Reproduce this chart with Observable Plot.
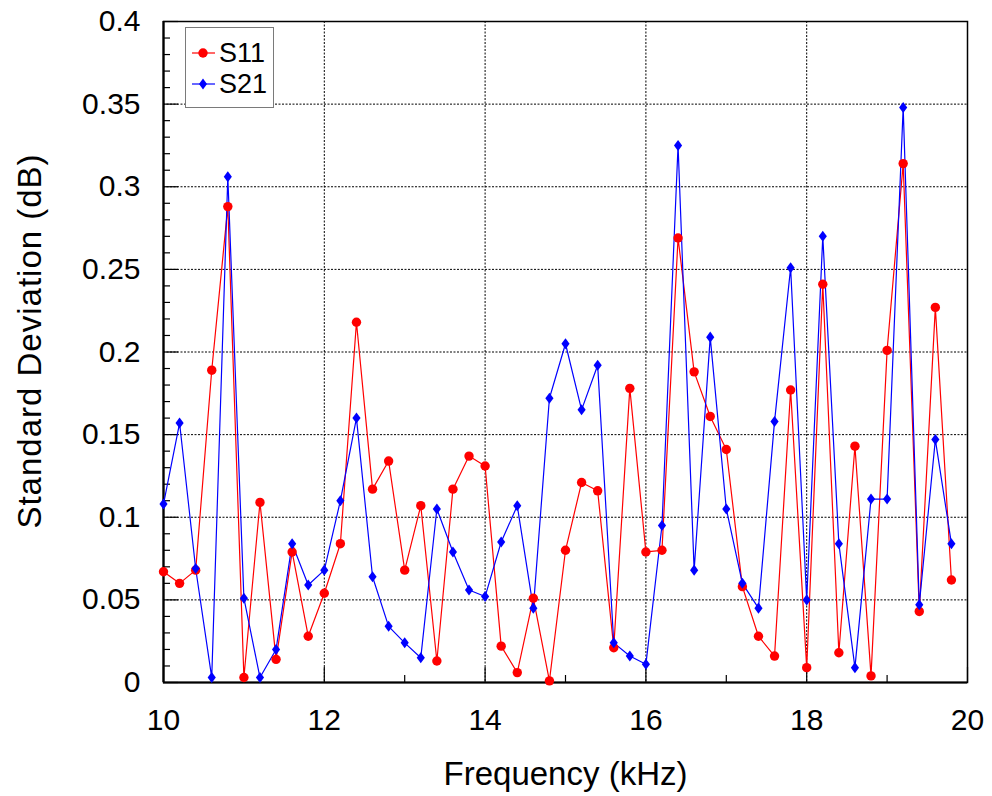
<!DOCTYPE html>
<html>
<head>
<meta charset="utf-8">
<script src="https://cdn.jsdelivr.net/npm/d3@7"></script>
<script src="https://cdn.jsdelivr.net/npm/@observablehq/plot@0.6"></script>
<style>
  body { margin: 0; background: #fff; font-family: "Liberation Sans", Arial, Helvetica, sans-serif; }
  #wrap { position: relative; width: 992px; height: 796px; }
  #legend { position: absolute; left: 185px; top: 27px; width: 87px; height: 79px;
            border: 1.5px solid #7a7a7a; background: #fff; }
  #legend svg { position: absolute; left: 0; top: 0; }
  .lab { position: absolute; left: 33px; font-size: 27px; line-height: 27px; color: #000; }
</style>
</head>
<body>
<div id="wrap">
  <div id="chart"></div>
  <div id="legend">
    <svg width="30" height="79">
      <line x1="6" x2="29" y1="25" y2="25" stroke="red" stroke-width="1.2"/>
      <circle cx="17" cy="25" r="4.7" fill="red"/>
      <line x1="6" x2="29" y1="56" y2="56" stroke="blue" stroke-width="1.2"/>
      <path d="M17,50.5L21,56L17,61.5L13,56Z" fill="blue"/>
    </svg>
    <div class="lab" style="top:12px">S11</div>
    <div class="lab" style="top:43px">S21</div>
  </div>
</div>
<script>
const freq = [10.0,10.2,10.4,10.6,10.8,11.0,11.2,11.4,11.6,11.8,
              12.0,12.2,12.4,12.6,12.8,13.0,13.2,13.4,13.6,13.8,
              14.0,14.2,14.4,14.6,14.8,15.0,15.2,15.4,15.6,15.8,
              16.0,16.2,16.4,16.6,16.8,17.0,17.2,17.4,17.6,17.8,
              18.0,18.2,18.4,18.6,18.8,19.0,19.2,19.4,19.6,19.8];
const s11 = [0.067,0.060,0.068,0.189,0.288,0.003,0.109,0.014,0.079,0.028,
             0.054,0.084,0.218,0.117,0.134,0.068,0.107,0.013,0.117,0.137,
             0.131,0.022,0.006,0.051,0.001,0.080,0.121,0.116,0.021,0.178,
             0.079,0.080,0.269,0.188,0.161,0.141,0.058,0.028,0.016,0.177,
             0.009,0.241,0.018,0.143,0.004,0.201,0.314,0.043,0.227,0.062];
const s21 = [0.108,0.157,0.069,0.003,0.306,0.051,0.003,0.020,0.084,0.059,
             0.068,0.110,0.160,0.064,0.034,0.024,0.015,0.105,0.079,0.056,
             0.052,0.085,0.107,0.045,0.172,0.205,0.165,0.192,0.024,0.016,
             0.011,0.095,0.325,0.068,0.209,0.105,0.060,0.045,0.158,0.251,
             0.050,0.270,0.084,0.009,0.111,0.111,0.348,0.047,0.147,0.084];

const xMajorTicks = [10, 12, 14, 16, 18, 20];
const xTickLabels = ["10", "12", "14", "16", "18", "20"];
const xMinorTicks = [11, 13, 15, 17, 19];
const xGridLines = [12, 14, 16, 18];
const yMajorTicks = [0, 0.05, 0.1, 0.15, 0.2, 0.25, 0.3, 0.35, 0.4];
const yTickLabels = ["0", "0.05", "0.1", "0.15", "0.2", "0.25", "0.3", "0.35", "0.4"];
const yMinorTicks = [0.01,0.02,0.03,0.04,0.06,0.07,0.08,0.09,0.11,0.12,0.13,0.14,
                     0.16,0.17,0.18,0.19,0.21,0.22,0.23,0.24,0.26,0.27,0.28,0.29,
                     0.31,0.32,0.33,0.34,0.36,0.37,0.38,0.39];
const yGridLines = [0.05, 0.1, 0.15, 0.2, 0.25, 0.3, 0.35];
const xTitle = "Frequency (kHz)";
const yTitle = "Standard Deviation (dB)";

const rowsS11 = freq.map((f, i) => ({f, v: s11[i]}));
const rowsS21 = freq.map((f, i) => ({f, v: s21[i]}));

const W = 992, H = 796, ML = 163, MR = 25, MT = 21, MB = 114;
const innerW = W - ML - MR, innerH = H - MT - MB;

const tallDiamond = {
  draw(ctx, size) {
    const r = Math.sqrt(size / Math.PI);
    const w = r * 0.85, h = r * 1.15;
    ctx.moveTo(0, -h); ctx.lineTo(w, 0); ctx.lineTo(0, h); ctx.lineTo(-w, 0); ctx.closePath();
  }
};

const font = '"Liberation Sans", Arial, Helvetica, sans-serif';
const chart = Plot.plot({
  width: W, height: H,
  marginLeft: ML, marginRight: MR, marginTop: MT, marginBottom: MB,
  style: {fontFamily: font, fontSize: "30px", color: "black", background: "white", overflow: "visible"},
  x: {domain: [10, 20]},
  y: {domain: [0, 0.4]},
  marks: [
    Plot.gridX(xGridLines, {stroke: "black", strokeOpacity: 1, strokeWidth: 1, strokeDasharray: "2,1.5"}),
    Plot.gridY(yGridLines, {stroke: "black", strokeOpacity: 1, strokeWidth: 1, strokeDasharray: "2,1.5"}),
    Plot.tickX(xMajorTicks, {x: d => d, insetTop: innerH - 15, stroke: "black", strokeWidth: 1.2}),
    Plot.tickX(xMinorTicks, {x: d => d, insetTop: innerH - 7, stroke: "black", strokeWidth: 1.2}),
    Plot.tickY(yMajorTicks, {y: d => d, insetRight: innerW - 15, stroke: "black", strokeWidth: 1.2}),
    Plot.tickY(yMinorTicks, {y: d => d, insetRight: innerW - 7, stroke: "black", strokeWidth: 1.2}),
    Plot.axisX(xMajorTicks, {tickSize: 0, tickPadding: 26, fontSize: 30, label: null,
      tickFormat: d => xTickLabels[xMajorTicks.indexOf(d)]}),
    Plot.axisY(yMajorTicks, {tickSize: 0, tickPadding: 23, fontSize: 30, label: null,
      tickFormat: d => yTickLabels[yMajorTicks.indexOf(d)]}),
    Plot.frame({stroke: "black", strokeWidth: 1.5}),
    Plot.ruleX([10], {stroke: "black", strokeWidth: 2.2}),
    Plot.ruleY([0], {stroke: "black", strokeWidth: 2.2}),
    Plot.line(rowsS11, {x: "f", y: "v", stroke: "red", strokeWidth: 1.2}),
    Plot.line(rowsS21, {x: "f", y: "v", stroke: "blue", strokeWidth: 1.2}),
    Plot.dot(rowsS11, {x: "f", y: "v", r: 4.7, fill: "red", stroke: "none"}),
    Plot.dot(rowsS21, {x: "f", y: "v", r: 4.8, fill: "blue", stroke: "none", symbol: tallDiamond}),
    Plot.text([xTitle], {text: d => d, frameAnchor: "bottom", dy: 102, fontSize: 33}),
    Plot.text([yTitle], {text: d => d, frameAnchor: "left", textAnchor: "middle", lineAnchor: "middle",
      rotate: -90, dx: -133, dy: -11, fontSize: 33})
  ]
});
document.getElementById("chart").appendChild(chart);
d3.select(chart).selectAll("text").filter(function() { return this.textContent === yTitle; })
  .attr("letter-spacing", "1px");
</script>
</body>
</html>
